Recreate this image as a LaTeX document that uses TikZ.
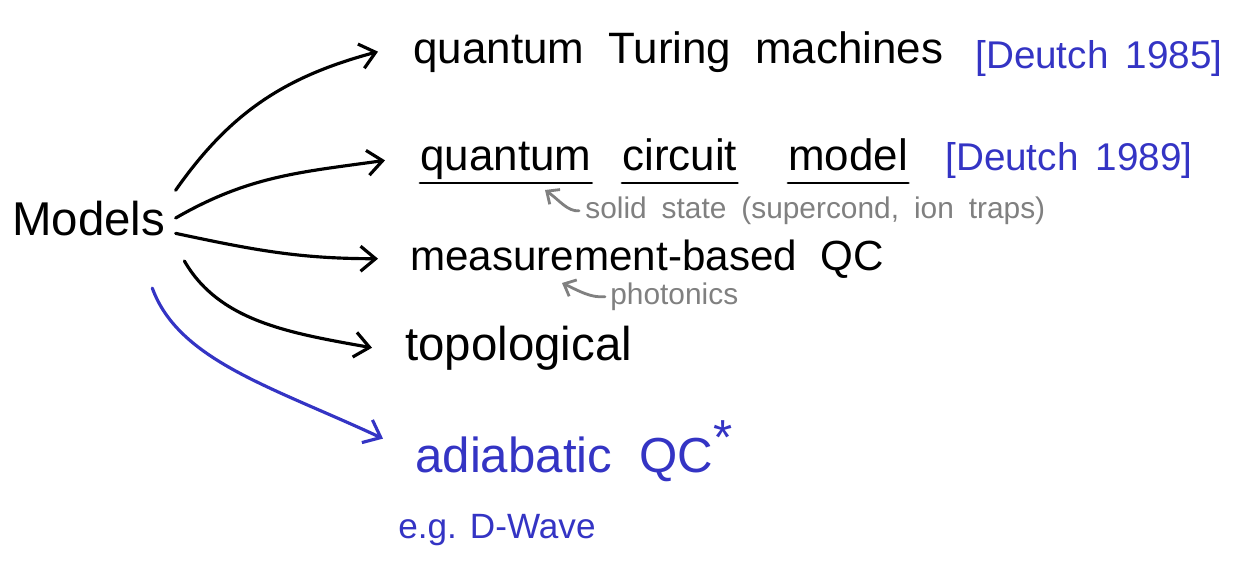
\documentclass[tikz,border=0pt]{standalone}
\usepackage{fontspec}
\setmainfont{Liberation Sans}
\usetikzlibrary{positioning,arrows.meta}
\definecolor{InkBlue}{RGB}{52,52,196}
\definecolor{NoteGray}{RGB}{128,128,128}

\begin{document}
\begin{tikzpicture}[x=0.02cm, y=-0.02cm,
      every node/.style={inner sep=0pt, anchor=base west},
      item/.style={font={\fontsize{25}{30}\selectfont\spaceskip=0.55em\relax}},
      cite/.style={font={\fontsize{22}{26}\selectfont\spaceskip=0.45em\relax}, text=InkBlue},
      note/.style={font={\fontsize{17}{20}\selectfont\spaceskip=0.5em\relax}, text=NoteGray},
      arr/.style={-{Straight Barb[length=3mm,width=5mm]}, line width=1.8pt, line cap=round},
      notearr/.style={-{Straight Barb[length=2mm,width=3.6mm]}, line width=1.6pt, line cap=round, draw=NoteGray},
      uline/.style={line width=1.7pt, line cap=round}
  ]
    \useasboundingbox (0,0) rectangle (1251,561);
    \node[font=\fontsize{27}{32}\selectfont, inner sep=0.2cm] (models) at (2,235) {Models};
    \node[item] (qtm) at (413,63) {quantum Turing machines};
    \node[cite] (cite85) at (975,68) {[Deutch 1985]};
    \node[item] (qcq) at (420,170) {quantum};
    \node[item] (qcc) at (622,170) {circuit};
    \node[item] (qcm) at (788,170) {model};
    \node[cite] (cite89) at (945,170) {[Deutch 1989]};
    \node[note] (solid) at (585,218) {solid state (supercond, ion traps)};
    \node[item, font={\fontsize{24}{28}\selectfont\spaceskip=0.55em\relax}] (mbqc) at (410,270) {measurement-based QC};
    \node[note] (photon) at (610,304) {photonics};
    \node[item, font=\fontsize{27}{32}\selectfont] (topo) at (405,360) {topological};
    \node[item, font={\fontsize{28}{32}\selectfont\spaceskip=0.55em\relax}, text=InkBlue] (adia) at (415,472) {adiabatic QC\raisebox{0.35em}{*}};
    \node[font=\fontsize{20}{24}\selectfont, text=InkBlue] (dwave) at (398,538) {e.g. D-Wave};
    \coordinate (ssTip) at (545,190);
    \coordinate (phTip) at (562,283);
    % underlines
    \draw[uline] ([yshift=-0.26cm]qcq.base west) -- ([yshift=-0.26cm]qcq.base east);
    \draw[uline] ([yshift=-0.26cm]qcc.base west) -- ([yshift=-0.26cm]qcc.base east);
    \draw[uline] ([yshift=-0.26cm]qcm.base west) -- ([yshift=-0.26cm]qcm.base east);
    \draw[arr] (models.north east) to[out=55, in=195] ([xshift=-0.7cm]qtm.west);
    \draw[arr] (models.east) to[out=30, in=188] ([xshift=-0.7cm]qcq.west);
    \draw[arr] (models.-10) to[out=-12, in=180] ([xshift=-0.64cm]mbqc.west);
    \draw[arr, shorten <=0.35cm] (models.south east) to[out=-60, in=170] ([xshift=-0.66cm]topo.west);
    \draw[arr, draw=InkBlue, shorten <=0.9cm] (models.-30) to[out=-70, in=155] ([xshift=-0.64cm,yshift=0.25cm]adia.west);
    \draw[notearr, shorten <=0.12cm] (solid.west) to[out=185, in=-35] (ssTip);
    \draw[notearr, shorten <=0.1cm] (photon.west) to[out=185, in=-25] (phTip);
  \end{tikzpicture}
\end{document}
